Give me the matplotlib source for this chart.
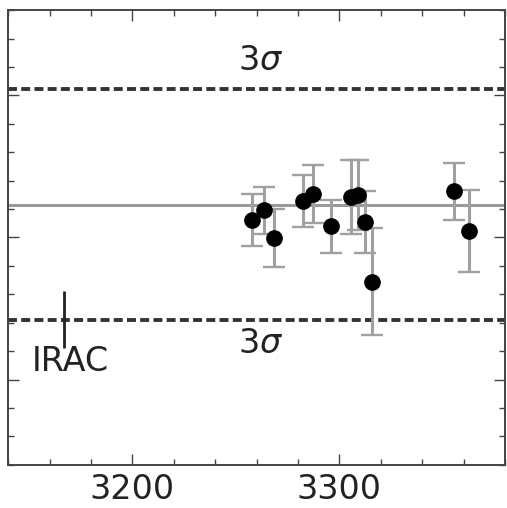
import matplotlib
matplotlib.use("Agg")
import numpy as np
import matplotlib.pyplot as plt
from matplotlib.ticker import MultipleLocator, NullFormatter

# measured offsets with 1-sigma errors
x_obs = [3258.0, 3263.8, 3268.5, 3282.4, 3287.1, 3295.9,
         3305.5, 3309.1, 3312.5, 3315.7, 3355.6, 3362.4]
y_obs = [0.062, 0.095, -0.002, 0.128, 0.153, 0.039,
         0.141, 0.151, 0.056, -0.155, 0.162, 0.022]
y_err = [0.092, 0.082, 0.102, 0.092, 0.102, 0.092,
         0.130, 0.123, 0.109, 0.187, 0.100, 0.144]

mean_level = 0.116
sigma = 0.136

# typical IRAC uncertainty marker
irac_x = 3167
irac_y = -0.29
irac_err = 0.10

fig = plt.figure(figsize=(5.07, 5.08), dpi=100)
ax = fig.add_axes([0.016, 0.085, 0.980, 0.895])

ax.axhline(mean_level, color="#9a9a9a", lw=2.2, zorder=1)
for s in (1, -1):
    ax.axhline(mean_level + s * 3 * sigma, color="#333333", lw=2.8,
               dashes=(2.3, 1.1), zorder=1)

ax.errorbar(x_obs, y_obs, yerr=y_err, fmt="o", color="black", ms=11,
            ecolor="#a0a0a0", elinewidth=2.2, capsize=8, capthick=1.7,
            zorder=3)

ax.errorbar([irac_x], [irac_y], yerr=[irac_err], fmt="none",
            ecolor="#222222", elinewidth=2.0, capsize=0, zorder=2)
ax.text(3151.5, -0.437, "IRAC", fontsize=24, color="#222222",
        ha="left", va="center")

ax.text(3262, mean_level + 3 * sigma + 0.098, r"$3\sigma$", fontsize=24,
        color="#222222", ha="center", va="center")
ax.text(3262, mean_level - 3 * sigma - 0.081, r"$3\sigma$", fontsize=24,
        color="#222222", ha="center", va="center")

ax.set_xlim(3140, 3380)
ax.set_ylim(-0.8, 0.8)
ax.xaxis.set_major_locator(MultipleLocator(100))
ax.xaxis.set_minor_locator(MultipleLocator(20))
ax.yaxis.set_major_locator(MultipleLocator(0.5))
ax.yaxis.set_minor_locator(MultipleLocator(0.1))
ax.yaxis.set_major_formatter(NullFormatter())

ax.tick_params(which="both", direction="in", top=True, right=True,
               color="#444444", width=1.0)
ax.tick_params(which="major", length=8, labelsize=24, pad=6,
               labelcolor="#222222")
ax.tick_params(which="minor", length=4)
for sp in ax.spines.values():
    sp.set_color("#444444")
    sp.set_linewidth(1.4)

plt.savefig("out.png", dpi=100)
plt.close()
